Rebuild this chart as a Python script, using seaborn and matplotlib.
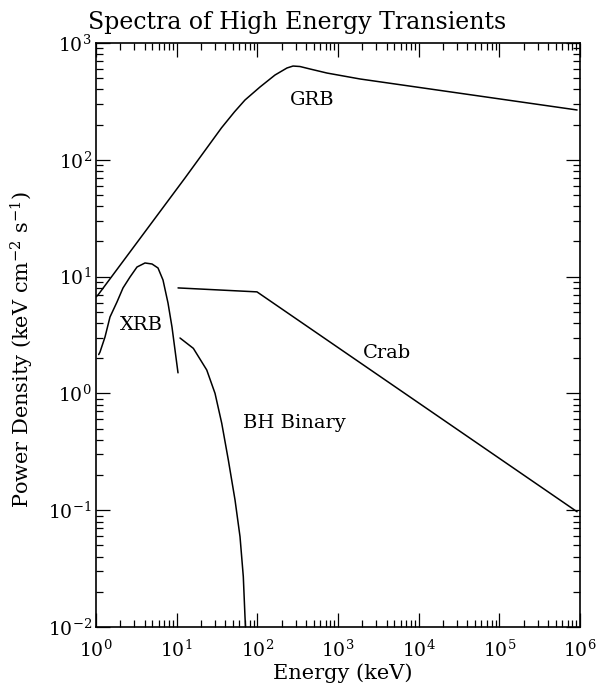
import numpy as np
import pandas as pd
import matplotlib
matplotlib.use("Agg")
import matplotlib.pyplot as plt
import seaborn as sns
from matplotlib.ticker import LogLocator, NullFormatter, FixedLocator

# ---- data (energy keV, power density) ----
grb_e = [1.0, 1.059, 12.69, 36.0, 52.0, 70.3, 107.9, 165.6, 233.0, 277.0, 338.0, 450.0, 731.0, 1875.0, 9.2e5]
grb_p = [6.7, 6.96, 69.9, 188.0, 257.0, 325.0, 420.0, 532.0, 611.0, 635.0, 629.0, 599.0, 553.0, 492.0, 267.0]

xrb_e = [1.08, 1.121, 1.293, 1.491, 1.820, 2.161, 2.640, 3.223, 4.05, 4.95, 5.87, 6.77, 7.81, 8.75, 9.54, 10.39]
xrb_p = [2.15, 2.26, 3.04, 4.51, 6.06, 7.99, 9.92, 12.08, 13.08, 12.82, 11.85, 9.35, 5.94, 3.70, 2.35, 1.50]

crab_e = [10.4, 99.0, 9.2e5]
crab_p = [8.0, 7.4, 0.097]

bh_e = [11.0, 16.1, 23.6, 29.9, 36.2, 43.7, 52.9, 61.0, 67.0, 70.3, 71.3]
bh_p = [2.98, 2.43, 1.586, 1.00, 0.555, 0.269, 0.1223, 0.0593, 0.0270, 0.01225, 0.0100]

labels = ["GRB", "XRB", "Crab", "BH Binary"]
label_pos = [(475.0, 325.0), (3.61, 3.86), (4050.0, 2.22), (285.0, 0.56)]

x_ticks = [1e0, 1e1, 1e2, 1e3, 1e4, 1e5, 1e6]
x_ticklabels = [r"$10^{0}$", r"$10^{1}$", r"$10^{2}$", r"$10^{3}$", r"$10^{4}$", r"$10^{5}$", r"$10^{6}$"]
y_ticks = [1e-2, 1e-1, 1e0, 1e1, 1e2, 1e3]
y_ticklabels = [r"$10^{-2}$", r"$10^{-1}$", r"$10^{0}$", r"$10^{1}$", r"$10^{2}$", r"$10^{3}$"]

title = "Spectra of High Energy Transients"
xlabel = "Energy (keV)"
ylabel = r"Power Density (keV cm$^{-2}$ s$^{-1}$)"

sns.set_theme(style="ticks")
plt.rcParams["font.family"] = ["DejaVu Serif"]
plt.rcParams["mathtext.fontset"] = "dejavuserif"
plt.rcParams["text.color"] = "black"
plt.rcParams["axes.labelcolor"] = "black"
plt.rcParams["xtick.color"] = "black"
plt.rcParams["ytick.color"] = "black"

fig = plt.figure(figsize=(5.98, 6.84), dpi=100)
ax = fig.add_axes([96 / 598, 1 - 627 / 684, (580 - 96) / 598, (627 - 43) / 684])

series = [(grb_e, grb_p), (xrb_e, xrb_p), (crab_e, crab_p), (bh_e, bh_p)]
for name, (e, p) in zip(labels, series):
    df = pd.DataFrame({"energy": e, "power": p})
    sns.lineplot(data=df, x="energy", y="power", ax=ax, color="black",
                 linewidth=1.1, sort=False, estimator=None)

ax.set_xscale("log")
ax.set_yscale("log")
ax.set_xlim(1, 1e6)
ax.set_ylim(1e-2, 1e3)

ax.xaxis.set_major_locator(FixedLocator(x_ticks))
ax.set_xticklabels(x_ticklabels)
ax.yaxis.set_major_locator(FixedLocator(y_ticks))
ax.set_yticklabels(y_ticklabels)
ax.xaxis.set_minor_locator(LogLocator(base=10, subs=np.arange(2, 10), numticks=20))
ax.yaxis.set_minor_locator(LogLocator(base=10, subs=np.arange(2, 10), numticks=20))
ax.xaxis.set_minor_formatter(NullFormatter())
ax.yaxis.set_minor_formatter(NullFormatter())

ax.tick_params(which="both", direction="in", top=True, right=True, color="black", width=0.9)
ax.tick_params(which="major", length=10, labelsize=13.5)
ax.tick_params(axis="x", which="major", pad=9)
ax.tick_params(axis="y", which="major", pad=3)
ax.tick_params(which="minor", length=5)
for s in ax.spines.values():
    s.set_color("black")
    s.set_linewidth(1.2)

ax.set_xlabel(xlabel, fontsize=15)
ax.set_ylabel(ylabel, fontsize=15)
ax.xaxis.label.set_va("baseline")
ax.yaxis.label.set_va("center")
ax.xaxis.set_label_coords(0.51, (627 - 679) / 584)
ax.yaxis.set_label_coords((22 - 96) / 484, (627 - 350) / 584)

for name, (lx, ly) in zip(labels, label_pos):
    ax.text(lx, ly, name, fontsize=14, ha="center", va="center", color="black")

fig.text(297 / 598, 1 - 22 / 684, title, fontsize=17, ha="center", va="center")

fig.savefig("out.png", dpi=100)
